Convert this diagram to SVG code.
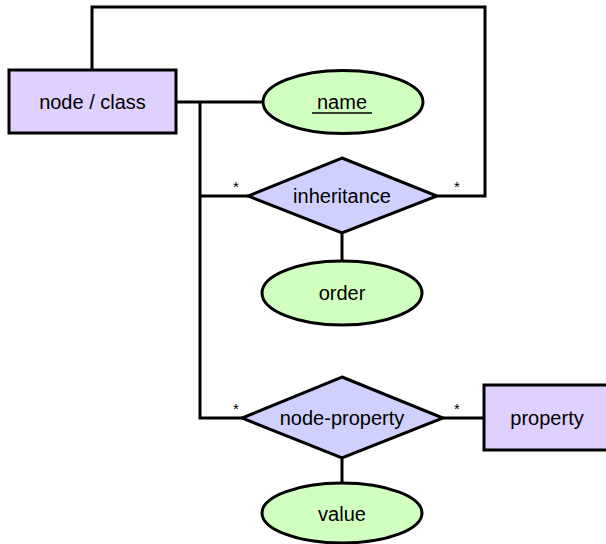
<svg xmlns="http://www.w3.org/2000/svg" width="606" height="544" viewBox="0 0 606 544">
  <style>
    .entity { fill: #e0d0ff; stroke: #000; stroke-width: 3; }
    .rel { fill: #d0d0ff; stroke: #000; stroke-width: 3; stroke-linejoin: miter; }
    .attr { fill: #d0ffc0; stroke: #000; stroke-width: 3; }
    .link { fill: none; stroke: #000; stroke-width: 3; }
    .label { font-family: "Liberation Sans", Arial, sans-serif; font-size: 20px; fill: #000; text-anchor: middle; dominant-baseline: central; }
    .card { font-family: "Liberation Sans", Arial, sans-serif; font-size: 15px; fill: #000; text-anchor: middle; }
  </style>
  <rect width="606" height="544" fill="#fff"/>

  <g id="connectors">
    <polyline class="link" points="92,70 92,7 485,7 485,196 437,196"/>
    <line class="link" x1="176" y1="102" x2="263" y2="102"/>
    <polyline class="link" points="200,102 200,418 242,418"/>
    <line class="link" x1="200" y1="196" x2="248" y2="196"/>
    <line class="link" x1="342" y1="233" x2="342" y2="262"/>
    <line class="link" x1="443" y1="418" x2="484" y2="418"/>
    <line class="link" x1="342" y1="457" x2="342" y2="484"/>
    <text class="card" x="236" y="192">*</text>
    <text class="card" x="457" y="192">*</text>
    <text class="card" x="236" y="414">*</text>
    <text class="card" x="457" y="414">*</text>
  </g>

  <g id="node-class">
    <rect class="entity" x="9" y="70" width="167" height="63"/>
    <text class="label" x="92.5" y="102">node / class</text>
  </g>

  <g id="name">
    <ellipse class="attr" cx="343" cy="102" rx="80" ry="31.5"/>
    <text class="label" x="342" y="102">name</text>
    <line x1="312" y1="113" x2="372" y2="113" stroke="#000" stroke-width="1.5"/>
  </g>

  <g id="inheritance">
    <polygon class="rel" points="342,158 437,196 342,233 248,196"/>
    <text class="label" x="342" y="196">inheritance</text>
  </g>

  <g id="order">
    <ellipse class="attr" cx="342" cy="293" rx="80" ry="32"/>
    <text class="label" x="342" y="293">order</text>
  </g>

  <g id="node-property">
    <polygon class="rel" points="342,377 443,418 342,458 242,418"/>
    <text class="label" x="342" y="418">node-property</text>
  </g>

  <g id="property">
    <rect class="entity" x="484" y="385" width="130" height="65"/>
    <text class="label" x="547" y="418">property</text>
  </g>

  <g id="value">
    <ellipse class="attr" cx="342" cy="513" rx="80" ry="30"/>
    <text class="label" x="342" y="514">value</text>
  </g>
</svg>
